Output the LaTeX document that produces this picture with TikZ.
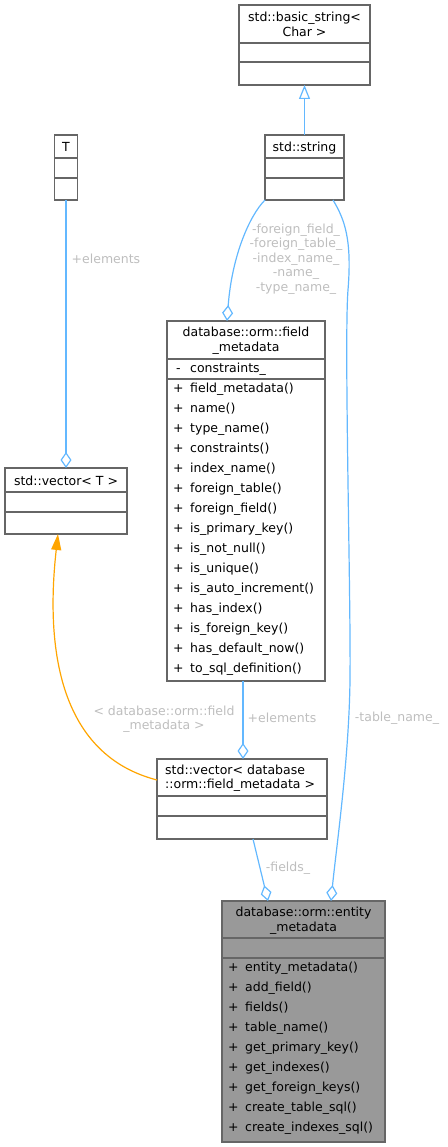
\documentclass[tikz,border=0pt]{standalone}
\usepackage{fontspec}
\setmainfont{DejaVu Sans}
\usetikzlibrary{arrows.meta,calc}
\definecolor{edgeblue}{HTML}{63B8FF}
\definecolor{boxline}{HTML}{666666}
\definecolor{lblgray}{HTML}{BEBEBE}
\definecolor{genorange}{HTML}{FFA500}
\definecolor{hlfill}{HTML}{999999}
\tikzset{
 classbox/.style={draw=boxline, line width=1.2pt, fill=white, inner sep=0pt, outer sep=0pt},
 sepline/.style={draw=boxline, line width=1.2pt},
 ttl/.style={font=\fontsize{12.5}{14.5}\selectfont, inner sep=0pt, anchor=base},
 ttlw/.style={font=\fontsize{12.5}{14.5}\selectfont, inner sep=0pt, anchor=base west},
 mem/.style={font=\fontsize{12.5}{14.5}\selectfont, inner sep=0pt, anchor=base west},
 elab/.style={font=\fontsize{12.5}{14.5}\selectfont, text=lblgray, inner sep=0pt, align=center},
 rel/.style={draw=edgeblue, line width=1.2pt},
 agg/.style={rel, -{Diamond[open, length=16pt, width=11pt]}},
 inh/.style={rel, -{Triangle[open, length=14pt, width=11pt]}},
 tmpl/.style={draw=genorange, line width=1.2pt, -{Triangle[length=16pt, width=10pt]}},
}
\begin{document}
\begin{tikzpicture}[x=1pt,y=-1pt]
\useasboundingbox (0,0) rectangle (447,1147);

% std::basic_string<Char>
\node[classbox, minimum width=131pt, minimum height=80pt] (bs) at (304.5,45) {};
\node[ttl] (bs1) at (304.5,21.5) {std::basic\_string<};
\node[ttl] (bs2) at (304.5,36.5) {Char >};
\draw[sepline] (239,43) -- (370,43);
\draw[sepline] (239,62) -- (370,62);

% std::string
\node[classbox, minimum width=79pt, minimum height=65pt] (str) at (304.5,167.5) {};
\node[ttl] (str1) at (304.5,151.5) {std::string};
\draw[sepline] (265,158) -- (344,158);
\draw[sepline] (265,178) -- (344,178);

% T
\node[classbox, minimum width=23pt, minimum height=65pt] (T) at (66,167.5) {};
\node[ttl] (T1) at (66,151.5) {T};
\draw[sepline] (54.5,158) -- (77.5,158);
\draw[sepline] (54.5,178) -- (77.5,178);

% std::vector<T>
\node[classbox, minimum width=122pt, minimum height=66pt] (vecT) at (66,501) {};
\node[ttl] (vecT1) at (66,485.5) {std::vector< T >};
\draw[sepline] (5,492) -- (127,492);
\draw[sepline] (5,512) -- (127,512);

% field_metadata
\node[classbox, minimum width=158pt, minimum height=360pt] (fm) at (246,501) {};
\node[ttl] (fm1) at (246,336.5) {database::orm::field};
\node[ttl] (fm2) at (246,351.5) {\_metadata};
\draw[sepline] (167,359) -- (325,359);
\node[mem] (fma0) at (176,372.5) {-};
\node[mem] (fmb0) at (190,372.5) {constraints\_};
\draw[sepline] (167,379) -- (325,379);
\foreach \m [count=\i] in {field\_metadata(), name(), type\_name(), constraints(), index\_name(), foreign\_table(), foreign\_field(), is\_primary\_key(), is\_not\_null(), is\_unique(), is\_auto\_increment(), has\_index(), is\_foreign\_key(), has\_default\_now(), to\_sql\_definition()} {
  \node[mem] (fmp\i) at (173,372.5+20*\i) {+};
  \node[mem] (fmm\i) at (190,372.5+20*\i) {\m};
}

% std::vector<field_metadata>
\node[classbox, minimum width=170pt, minimum height=80pt] (vfm) at (242,799) {};
\node[ttlw] (vfm1) at (165,774.5) {std::vector< database};
\node[ttlw] (vfm2) at (165,788.5) {::orm::field\_metadata >};
\draw[sepline] (157,796) -- (327,796);
\draw[sepline] (157,816) -- (327,816);

% entity_metadata
\node[classbox, fill=hlfill, minimum width=163pt, minimum height=241pt] (em) at (303.5,1021.5) {};
\node[ttl] (em1) at (303.5,916.5) {database::orm::entity};
\node[ttl] (em2) at (303.5,931.5) {\_metadata};
\draw[sepline] (222,938) -- (385,938);
\draw[sepline] (222,958) -- (385,958);
\foreach \m [count=\i] in {entity\_metadata(), add\_field(), fields(), table\_name(), get\_primary\_key(), get\_indexes(), get\_foreign\_keys(), create\_table\_sql(), create\_indexes\_sql()} {
  \node[mem] (emp\i) at (228,951.5+20*\i) {+};
  \node[mem] (emm\i) at (245,951.5+20*\i) {\m};
}

% connectors
\draw[inh] (str.north) -- (bs.south);
\draw[agg] (T.south) -- (vecT.north);
\draw[agg] (str.south west) .. controls (250,215) and (232,255) .. ([xshift=60pt]fm.north west);
\draw[agg] ([xshift=-11pt]str.south east) .. controls (345,220) and (352,240) .. (348,290) .. controls (344,340) and (351,600) .. (350,680) .. controls (349,760) and (336,850) .. ([xshift=109pt]em.north west);
\draw[agg] ([xshift=-3pt]fm.south) -- ([xshift=1pt]vfm.north);
\draw[agg] ([xshift=11pt]vfm.south) -- ([xshift=46pt]em.north west);
\draw[tmpl] ([yshift=19pt]vfm.west) .. controls (60,755) and (45,650) .. ([xshift=-8pt]vecT.south);

% labels
\node[elab] (lT) at (106,259) {+elements};
\node[elab] (lstr) at (296,259) {-foreign\_field\_\\-foreign\_table\_\\-index\_name\_\\-name\_\\-type\_name\_};
\node[elab] (ltn) at (397,718) {-table\_name\_};
\node[elab] (lel) at (282,718) {+elements};
\node[elab] (lfl) at (288,868) {-fields\_};
\node[elab] (lgen) at (164,719) {< database::orm::field\\\_metadata >};
\end{tikzpicture}
\end{document}
